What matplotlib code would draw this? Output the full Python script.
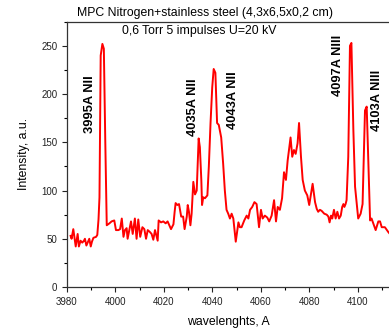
import matplotlib
matplotlib.use("Agg")
import matplotlib.pyplot as plt
from matplotlib.ticker import MultipleLocator

plt.rcParams['font.family'] = ['Liberation Sans', 'DejaVu Sans']

# spectrum (wavelength in A, intensity in a.u.)
wl = [3981.5, 3981.9, 3982.6, 3983.6, 3984.4, 3984.9, 3985.6, 3986.3, 3987.0, 3987.4,
      3988.0, 3988.7, 3989.2, 3989.8, 3990.3, 3990.9, 3992.0, 3992.5, 3993.0, 3993.4,
      3993.9, 3994.6, 3995.2, 3995.8, 3996.4, 3997.5, 3998.4, 3999.5, 4000.2, 4001.2,
      4001.9, 4002.6, 4003.3, 4003.9, 4004.6, 4005.0, 4006.4, 4007.1, 4008.0, 4008.7,
      4009.4, 4010.2, 4011.1, 4011.9, 4012.6, 4013.3, 4014.2, 4014.9, 4015.6, 4016.3,
      4017.4, 4017.8, 4018.8, 4019.7, 4020.7, 4021.5, 4022.9, 4023.9, 4024.4, 4024.8,
      4025.5, 4026.2, 4027.1, 4027.9, 4028.5, 4029.4, 4029.8, 4030.3, 4030.9, 4031.4,
      4032.1, 4032.8, 4033.5, 4034.3, 4034.8, 4035.4, 4035.7, 4036.2, 4036.9, 4037.9,
      4038.5, 4039.2, 4039.9, 4040.5, 4041.2, 4041.9, 4042.6, 4043.6, 4044.4, 4045.1,
      4045.8, 4046.5, 4047.2, 4047.9, 4048.6, 4049.6, 4050.7, 4051.3, 4052.0, 4053.1,
      4054.1, 4054.8, 4055.5, 4056.4, 4057.3, 4058.2, 4059.2, 4060.0, 4060.7, 4061.6,
      4062.6, 4063.4, 4064.4, 4065.4, 4066.2, 4066.9, 4067.8, 4068.7, 4069.5, 4070.3,
      4071.0, 4071.7, 4072.2, 4072.9, 4073.6, 4074.3, 4075.1, 4075.7, 4076.5, 4077.2,
      4078.1, 4079.1, 4079.9, 4081.3, 4082.3, 4083.0, 4083.6, 4084.3, 4085.0, 4086.1,
      4087.1, 4087.8, 4088.3, 4088.9, 4089.4, 4090.1, 4090.8, 4091.5, 4092.2, 4092.9,
      4093.5, 4094.0, 4094.4, 4094.9, 4095.3, 4096.0, 4096.7, 4097.3, 4098.1, 4098.8,
      4100.1, 4101.1, 4101.9, 4102.9, 4103.6, 4104.3, 4105.0, 4105.6, 4106.3, 4107.3,
      4108.4, 4109.1, 4109.8, 4111.1, 4112.5, 4113.5]
intensity = [53, 50, 60, 42, 55, 42, 48, 46, 48, 50,
             43, 47, 50, 42, 47, 51, 52, 54, 70, 93,
             240, 252, 247, 150, 64, 66, 68, 69, 59, 59,
             60, 71, 52, 59, 61, 50, 68, 55, 71, 50,
             70, 52, 62, 60, 50, 59, 57, 55, 49, 59,
             48, 69, 67, 68, 66, 68, 60, 65, 78, 87,
             85, 86, 73, 73, 60, 73, 85, 78, 64, 76,
             109, 96, 100, 154, 145, 111, 85, 93, 92, 95,
             125, 170, 207, 226, 222, 170, 168, 155, 128, 100,
             80, 76, 71, 76, 71, 47, 67, 62, 62, 69,
             74, 71, 80, 83, 88, 86, 62, 80, 71, 74,
             72, 68, 74, 90, 68, 83, 80, 92, 119, 111,
             131, 145, 155, 135, 142, 138, 149, 170, 135, 111,
             100, 95, 85, 107, 88, 81, 78, 80, 79, 76,
             75, 73, 67, 74, 71, 80, 71, 78, 71, 74,
             83, 86, 83, 86, 90, 135, 250, 253, 163, 104,
             71, 76, 86, 183, 187, 128, 69, 71, 66, 59,
             68, 68, 62, 62, 57, 54]

peak_labels = ['3995A NII', '4035A NII', '4043A NII', '4097A NIII', '4103A NIII']
peak_x = [3989.5, 4032.0, 4048.6, 4091.6, 4108.0]
peak_y = [190, 186, 194, 230, 193]

fig = plt.figure(figsize=(3.89, 3.31), dpi=100)
ax = fig.add_axes([0.1722, 0.1329, 0.8278, 0.8015])

ax.plot(wl, intensity, color='red', lw=1.4)

for lab, x, y in zip(peak_labels, peak_x, peak_y):
    ax.text(x, y, lab, rotation=90, ha='center', va='center',
            fontsize=9.3, fontweight='bold', color='black')

ax.set_xlim(3980, 4112.8)
ax.set_ylim(0, 275)
ax.xaxis.set_major_locator(MultipleLocator(20))
ax.xaxis.set_minor_locator(MultipleLocator(10))
ax.yaxis.set_major_locator(MultipleLocator(50))
ax.yaxis.set_minor_locator(MultipleLocator(25))
ax.tick_params(which='major', direction='out', length=3.5, width=0.8,
               labelsize=7, colors='#222222')
ax.tick_params(which='minor', direction='out', length=2, width=0.8)
ax.spines['right'].set_visible(False)
for s in ['left', 'bottom', 'top']:
    ax.spines[s].set_linewidth(0.9)
    ax.spines[s].set_color('#333333')

ax.set_xlabel('wavelenghts, A', fontsize=8.8, labelpad=7)
ax.set_ylabel('Intensity, a.u.', fontsize=8.8, labelpad=8)
ax.text(0.41, 0.965, '0,6 Torr 5 impulses U=20 kV', transform=ax.transAxes,
        ha='center', va='center', fontsize=8.8)
fig.text(205 / 389, 1 - 13 / 331, 'MPC Nitrogen+stainless steel (4,3x6,5x0,2 cm)',
         ha='center', va='center', fontsize=8.8)

fig.savefig('out.png', dpi=100)
